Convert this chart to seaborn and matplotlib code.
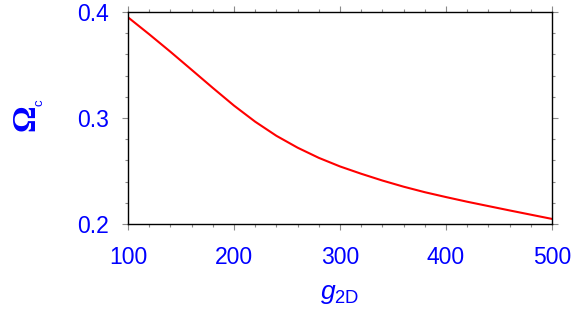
import matplotlib
matplotlib.use("Agg")
import matplotlib.pyplot as plt
import seaborn as sns
import pandas as pd
from matplotlib.ticker import MultipleLocator

g2d = [100, 120, 140, 160, 180, 200, 220, 240, 260, 280, 300,
       320, 340, 360, 380, 400, 420, 440, 460, 480, 500]
omega_c = [0.3950, 0.3790, 0.3625, 0.3455, 0.3284, 0.3117, 0.2965, 0.2832,
           0.2720, 0.2624, 0.2543, 0.2474, 0.2410, 0.2352, 0.2300, 0.2254,
           0.2210, 0.2169, 0.2128, 0.2088, 0.2048]
x_ticks = [100, 200, 300, 400, 500]
y_ticks = [0.2, 0.3, 0.4]
y_tick_labels = ["0.2", "0.3", "0.4"]

sns.set_style("ticks")
plt.rcParams['font.family'] = ['Liberation Sans', 'DejaVu Sans']
plt.rcParams['mathtext.fontset'] = 'custom'
plt.rcParams['mathtext.rm'] = 'Liberation Sans'
plt.rcParams['mathtext.it'] = 'Liberation Sans:italic'
plt.rcParams['mathtext.bf'] = 'Liberation Sans:bold'

df = pd.DataFrame({"g": g2d, "omega": omega_c})

W, H = 581, 332
fig = plt.figure(figsize=(W / 100, H / 100), dpi=100)
ax = fig.add_axes([128 / W, 1 - 224 / H, 424 / W, 212 / H])
sns.lineplot(data=df, x="g", y="omega", ax=ax, color=(1, 0, 0), lw=1.5,
             estimator=None)

ax.set_xlim(100, 500)
ax.set_ylim(0.2, 0.4)
ax.set_xticks(x_ticks)
ax.set_yticks(y_ticks)
ax.set_yticklabels(y_tick_labels)
ax.xaxis.set_minor_locator(MultipleLocator(20))
ax.yaxis.set_minor_locator(MultipleLocator(0.02))

for s in ax.spines.values():
    s.set_color('black')
    s.set_linewidth(1.0)

ax.tick_params(which='both', direction='out', top=True, right=True,
               color='#8a8a8a', width=0.8)
ax.tick_params(which='major', length=4.5, labelsize=16.5, labelcolor=(0, 0, 1))
ax.tick_params(which='minor', length=2.5)
ax.tick_params(axis='x', which='major', pad=11.5)
ax.tick_params(axis='y', which='major', pad=9.5)

ax.set_xlabel(r'$g_{\mathrm{2D}}$', color=(0, 0, 1), fontsize=19)
ax.xaxis.set_label_coords(0.5, -0.272)

ax.set_ylabel('Ω', color=(0, 0, 1), fontsize=24, fontweight='bold',
              family=['Liberation Serif', 'DejaVu Serif'])
ax.yaxis.set_label_coords(-0.203, 0.5)
fig.text(40 / W, 1 - 102.5 / H, 'c', color=(0, 0, 1), fontsize=9.5,
         rotation=90, ha='center', va='center')

fig.savefig("out.png", dpi=100)
